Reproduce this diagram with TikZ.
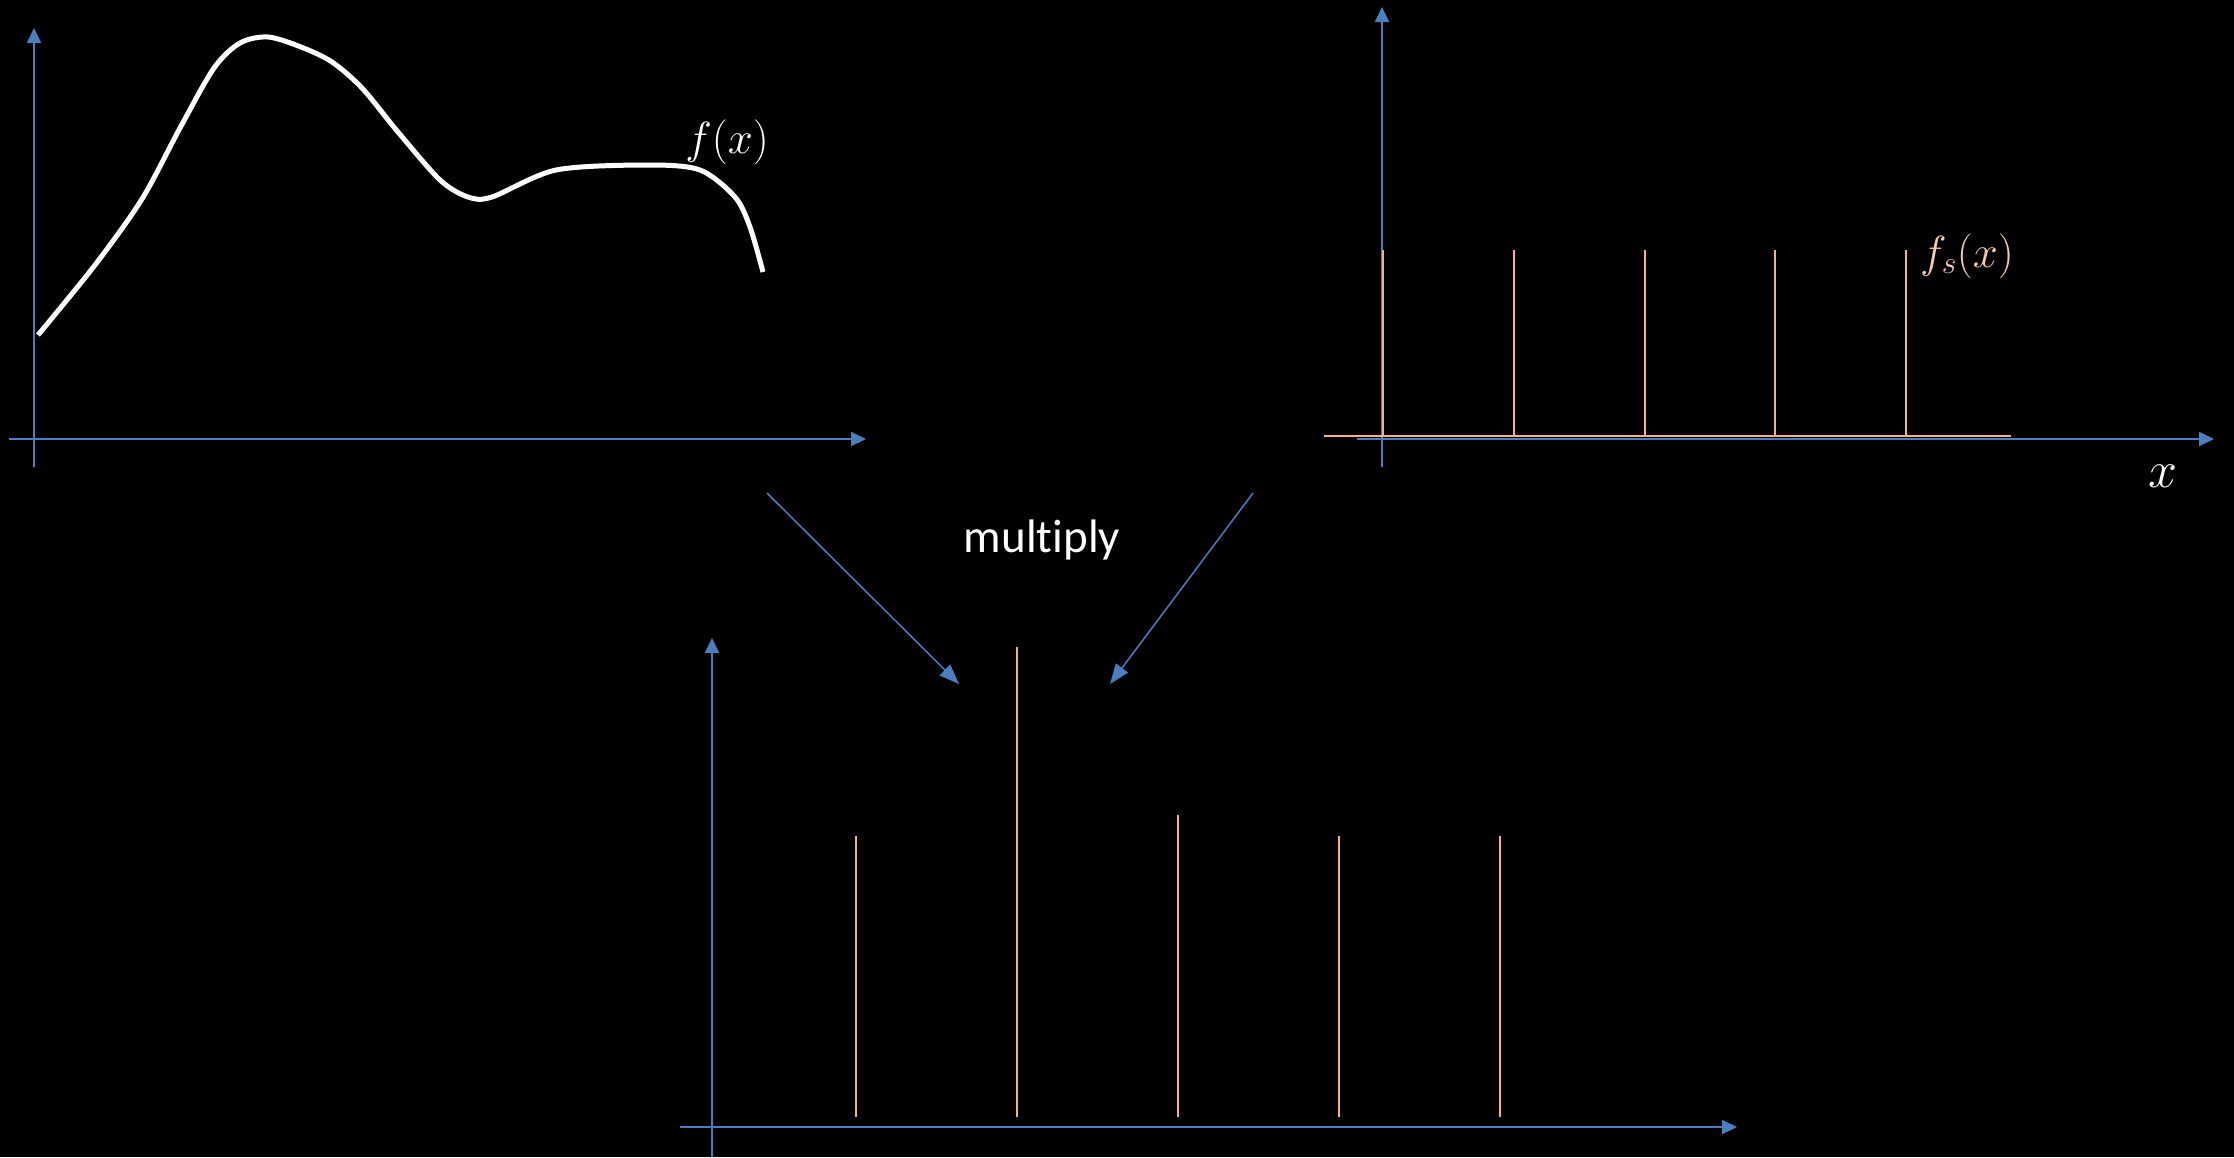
\RequirePackage{fix-cm}
\documentclass[tikz,border=0pt]{standalone}
\usepackage{fontspec}
\setmainfont{Carlito}[Ligatures={NoCommon}]
\usetikzlibrary{arrows.meta}
\definecolor{axisblue}{RGB}{74,126,190}
\definecolor{spikeor}{RGB}{244,177,131}
\definecolor{labelor}{RGB}{248,203,173}
\begin{document}
\begin{tikzpicture}[x=1pt,y=-1pt,
  axis/.style={draw=axisblue,line width=2pt,-{Triangle[length=15pt,width=14pt]}},
  conn/.style={draw=axisblue,line width=1.5pt,-{Triangle[length=20pt,width=15pt]}},
  spike/.style={draw=spikeor,line width=1.6pt},
  curvestyle/.style={draw=white,line width=5pt},
  mathlbl/.style={inner sep=0pt,anchor=base,font=\fontsize{45}{54}\selectfont}]
\fill[black] (0,0) rectangle (2234,1157);
\useasboundingbox (0,0) rectangle (2234,1157);

% ---- top-left graph
\coordinate (a1yb) at (34,467);
\coordinate (a1yt) at (34,28);
\coordinate (a1xl) at (9,439);
\coordinate (a1xr) at (866,439);
\draw[axis] (a1yb) -- (a1yt);
\draw[axis] (a1xl) -- (a1xr);
\draw[curvestyle] plot[smooth,tension=0.5] coordinates {
 (38,335) (95,265) (142,199) (180,128) (214,68) (240,43)
 (268,37) (301,47) (332,62) (362,88) (398,132) (440,180) (468,197) (492,197)
 (556,170) (648,165) (700,170) (735,197)
 (750,227) (763,272)};
\node[mathlbl,text=white] (flbl) at (727,153) {$f(x)$};

% ---- top-right graph
\coordinate (a2yb) at (1382,467);
\coordinate (a2yt) at (1382,7);
\coordinate (a2xl) at (1357,439);
\coordinate (a2xr) at (2214,439);
\draw[axis] (a2yb) -- (a2yt);
\draw[axis] (a2xl) -- (a2xr);
\coordinate (bl) at (1324,436);
\coordinate (br) at (2011,436);
\draw[draw=spikeor,line width=2.2pt] (bl) -- (br);
\foreach \i/\x in {1/1383,2/1514,3/1645,4/1775,5/1906}{
  \coordinate (s\i b) at (\x,436);
  \coordinate (s\i t) at (\x,250);
  \draw[spike] (s\i b) -- (s\i t);
}
\node[mathlbl,text=labelor] (fslbl) at (1967,267) {$f_s(x)$};
\node[inner sep=0pt,anchor=base,text=white,font=\fontsize{52}{60}\selectfont] (xlbl) at (2163,487) {$x$};

% ---- multiply arrows
\coordinate (l0) at (767,493);
\coordinate (l1) at (959,684);
\coordinate (r0) at (1253,493);
\coordinate (r1) at (1110,684);
\draw[conn] (l0) -- (l1);
\draw[conn] (r0) -- (r1);
\node[inner sep=0pt,anchor=base,text=white,font=\fontsize{47}{56}\selectfont] (mult) at (1042,552) {multiply};

% ---- bottom graph
\coordinate (a3yb) at (712,1157);
\coordinate (a3yt) at (712,638);
\coordinate (a3xl) at (680,1127);
\coordinate (a3xr) at (1737,1127);
\draw[axis] (a3yb) -- (a3yt);
\draw[axis] (a3xl) -- (a3xr);
\foreach \i/\x/\t in {1/856/836,2/1017/647,3/1178/815,4/1339/836,5/1500/836}{
  \coordinate (p\i b) at (\x,1117);
  \coordinate (p\i t) at (\x,\t);
  \draw[spike] (p\i b) -- (p\i t);
}
\end{tikzpicture}
\end{document}
